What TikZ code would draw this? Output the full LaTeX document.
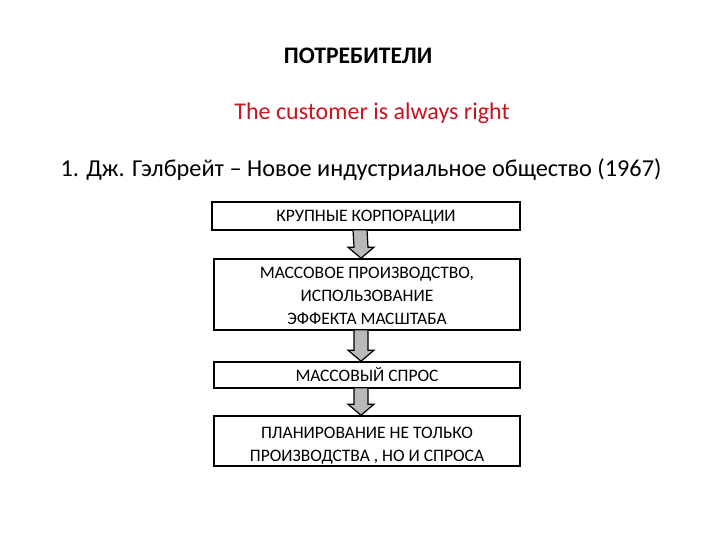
\documentclass[tikz,border=0pt]{standalone}
\usepackage{fontspec}
\usetikzlibrary{calc}
\setmainfont{Carlito}
\definecolor{redtxt}{RGB}{200,20,30}
\begin{document}
\begin{tikzpicture}[x=1pt,y=-1pt,
  box/.style={draw=black,line width=1.6pt,fill=white,inner sep=0pt},
  boxtext/.style={inner sep=0pt,align=center,font=\fontsize{17.5}{23}\selectfont},
  flow/.style={draw=black,line width=1.2pt,fill=gray!55}]
\useasboundingbox (0,0) rectangle (720,540);
\node[font=\bfseries\fontsize{23.7}{28}\selectfont] (title) at (358,56) {ПОТРЕБИТЕЛИ};
\node[font=\fontsize{24}{28}\selectfont,text=redtxt] (motto) at (372,113) {The customer is always right};
\node[font=\fontsize{24.3}{28}\selectfont] (ref) at (361,170) {1. Дж. Гэлбрейт – Новое индустриальное общество (1967)};
\node[box,minimum width=308pt,minimum height=28pt] (b1) at (366,216) {};
\node[boxtext] (b1t) at ($(b1.center)+(0,1.5)$) {КРУПНЫЕ КОРПОРАЦИИ};
\node[box,minimum width=306pt,minimum height=71pt] (b2) at (367,294.5) {};
\node[boxtext] (b2t) at ($(b2.center)+(0,1)$) {МАССОВОЕ ПРОИЗВОДСТВО,\\ИСПОЛЬЗОВАНИЕ\\ЭФФЕКТА МАСШТАБА};
\node[box,minimum width=306pt,minimum height=26pt] (b3) at (367,375) {};
\node[boxtext] (b3t) at (b3.center) {МАССОВЫЙ СПРОС};
\node[box,minimum width=306pt,minimum height=50pt] (b4) at (367,441) {};
\node[boxtext] (b4t) at ($(b4.center)+(0,5)$) {ПЛАНИРОВАНИЕ НЕ ТОЛЬКО\\ПРОИЗВОДСТВА , НО И СПРОСА};
\foreach \a/\b in {b1/b2,b2/b3,b3/b4}{
  \path ($(\a.south)+(-6,-1)$) coordinate (s) ($(\b.north)+(-6,0)$) coordinate (t);
  \draw[flow] ($(s)+(-7,0)$) -- ($(s)+(7,0)$) -- ($(t)+(7,-11)$) -- ($(t)+(13,-11)$) -- (t) -- ($(t)+(-13,-11)$) -- ($(t)+(-7,-11)$) -- cycle;
}
\end{tikzpicture}
\end{document}
